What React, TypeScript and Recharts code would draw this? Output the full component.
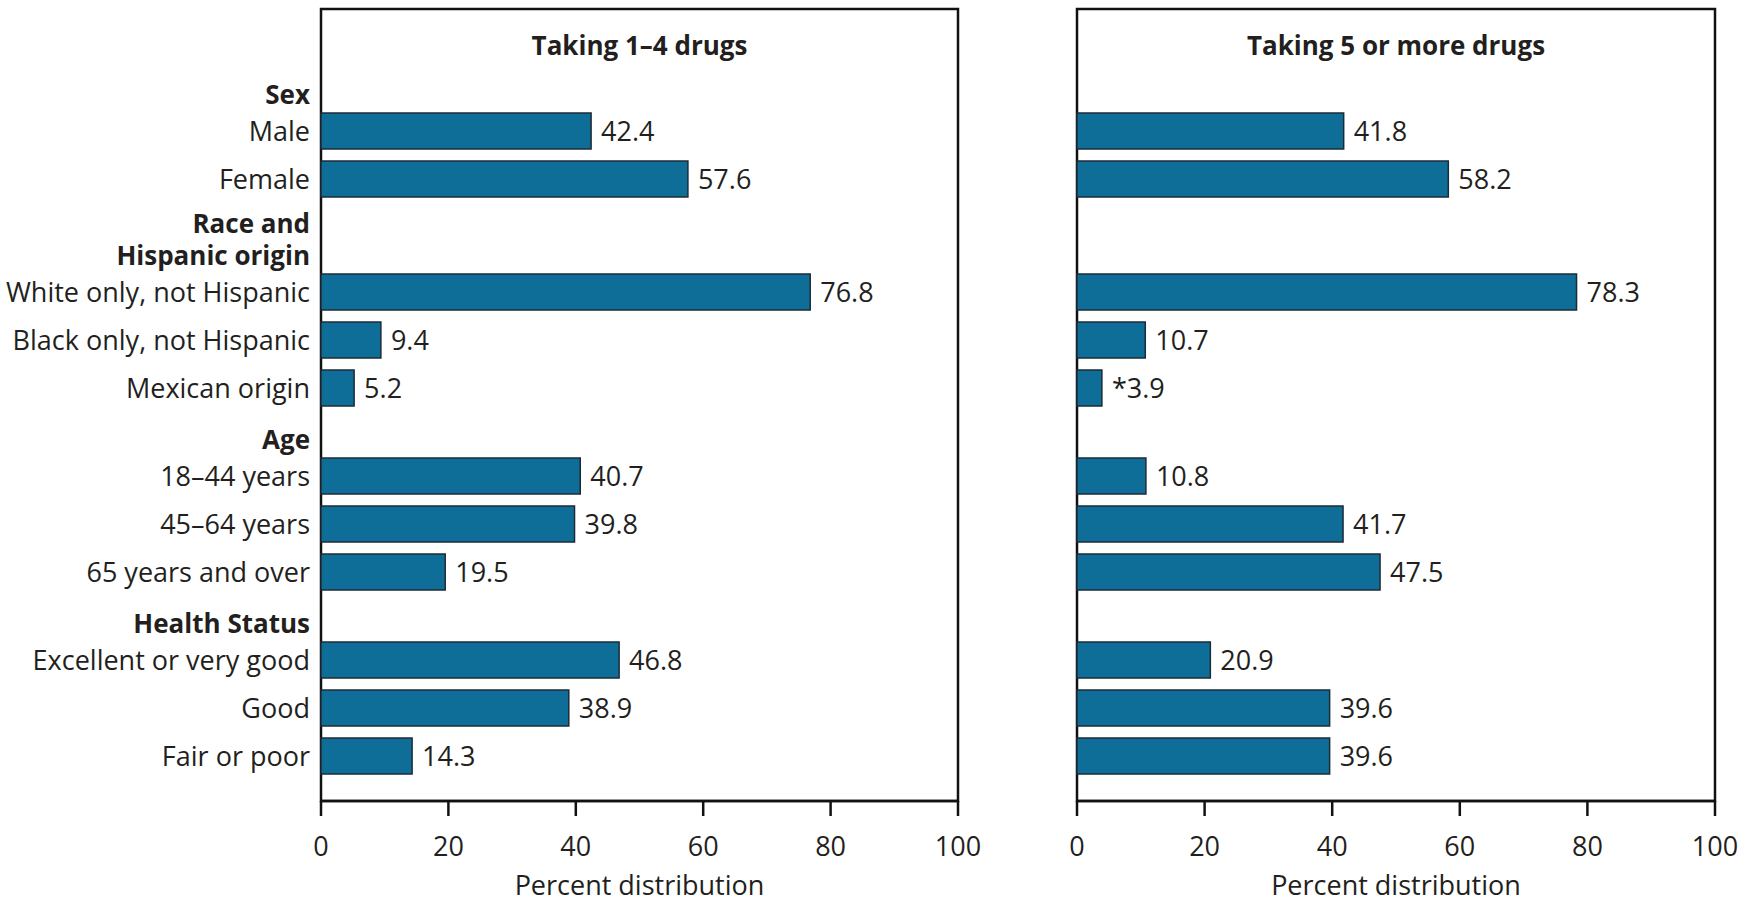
import { BarChart, Bar, XAxis, YAxis, LabelList, ReferenceArea, Label } from 'recharts';

// Categories and their group (index into groupHeaders)
const groupHeaders = ['Sex', 'Race and|Hispanic origin', 'Age', 'Health Status'];
const categories = [
  'Male',
  'Female',
  'White only, not Hispanic',
  'Black only, not Hispanic',
  'Mexican origin',
  '18–44 years',
  '45–64 years',
  '65 years and over',
  'Excellent or very good',
  'Good',
  'Fair or poor',
];
const categoryGroup = [0, 0, 1, 1, 1, 2, 2, 2, 3, 3, 3];

// Percent distribution
const oneToFourDrugs = [42.4, 57.6, 76.8, 9.4, 5.2, 40.7, 39.8, 19.5, 46.8, 38.9, 14.3];
const fivePlusDrugs = [41.8, 58.2, 78.3, 10.7, 3.9, 10.8, 41.7, 47.5, 20.9, 39.6, 39.6];
// '*' marks an estimate that is flagged in the source
const fivePlusFlags = ['', '', '', '', '*', '', '', '', '', '', ''];
const oneToFourFlags = ['', '', '', '', '', '', '', '', '', '', ''];

const xTicks = [0, 20, 40, 60, 80, 100];

// layout of the row axis (pixels from top of the plot box)
const PLOT_H = 792;
const FIRST_ROW = 122;
const ROW = 48;
const GROUP_GAP = 88;
const EXTRA_LINE_GAP = 25;
const HEADER_OFFSET = 36;
const LINE_HEIGHT = 32;

const BAR_FILL = '#0f6e97';
const BAR_STROKE = '#1c2b38';
const INK = '#231f20';
const FONT = 27;
const TITLE_FONT = 26;

type TickInfo = { pos: number; lines: string[]; bold: boolean };

function buildLayout() {
  const rowPos: number[] = [];
  const ticks: TickInfo[] = [];
  let cursor = FIRST_ROW;
  groupHeaders.forEach((header, g) => {
    const lines = header.split('|');
    if (g > 0) cursor += GROUP_GAP - ROW + (lines.length - 1) * EXTRA_LINE_GAP;
    ticks.push({ pos: cursor - HEADER_OFFSET, lines, bold: true });
    categories.forEach((name, i) => {
      if (categoryGroup[i] !== g) return;
      rowPos[i] = cursor;
      ticks.push({ pos: cursor, lines: [name], bold: false });
      cursor += ROW;
    });
  });
  return { rowPos, ticks };
}

const { rowPos, ticks } = buildLayout();

function makeData(values: number[], flags: string[]) {
  return categories.map((name, i) => ({
    name,
    pos: rowPos[i],
    value: values[i],
    label: flags[i] + values[i].toFixed(1),
  }));
}

const leftData = makeData(oneToFourDrugs, oneToFourFlags);
const rightData = makeData(fivePlusDrugs, fivePlusFlags);

function RowTick(props: any) {
  const { x, y, payload } = props;
  const info = ticks.find((t) => Math.abs(t.pos - payload.value) < 0.01);
  if (!info) return null;
  const n = info.lines.length;
  return (
    <g>
      {info.lines.map((line, k) => (
        <text
          key={k}
          x={x - 3}
          y={y - (n - 1 - k) * LINE_HEIGHT}
          dy="0.36em"
          textAnchor="end"
          fontSize={info.bold ? TITLE_FONT : FONT}
          fontWeight={info.bold ? 700 : 400}
          fill={INK}
        >
          {line}
        </text>
      ))}
    </g>
  );
}

function Panel({
  data,
  title,
  width,
  yWidth,
  showLabels,
}: {
  data: any[];
  title: string;
  width: number;
  yWidth: number;
  showLabels: boolean;
}) {
  return (
    <BarChart
      width={width}
      height={905}
      data={data}
      layout="vertical"
      margin={{ top: 9, right: 40, left: 0, bottom: 0 }}
    >
      <XAxis
        type="number"
        domain={[0, 100]}
        ticks={xTicks}
        interval={0}
        height={104}
        tickSize={15}
        tickMargin={21}
        axisLine={{ stroke: '#111', strokeWidth: 2.5 }}
        tickLine={{ stroke: '#111', strokeWidth: 2.5 }}
        tick={{ fontSize: FONT, fill: INK }}
      >
        <Label value="Percent distribution" position="insideBottom" offset={10} fontSize={FONT} fill={INK} />
      </XAxis>
      <YAxis
        type="number"
        dataKey="pos"
        domain={[0, PLOT_H]}
        width={yWidth}
        ticks={ticks.map((t) => t.pos)}
        interval={0}
        axisLine={false}
        tickLine={false}
        tick={showLabels ? <RowTick /> : false}
      />
      <ReferenceArea
        x1={0}
        x2={100}
        y1={0}
        y2={PLOT_H}
        fill="none"
        stroke="#111"
        strokeWidth={2.5}
        ifOverflow="visible"
      >
        <Label value={title} position="insideTop" offset={28} fontSize={TITLE_FONT} fontWeight={700} fill={INK} />
      </ReferenceArea>
      <Bar
        dataKey="value"
        barSize={36}
        fill={BAR_FILL}
        stroke={BAR_STROKE}
        strokeWidth={1.5}
        isAnimationActive={false}
      >
        <LabelList dataKey="label" position="right" offset={10} fontSize={FONT} fill={INK} />
      </Bar>
    </BarChart>
  );
}

export default function App() {
  return (
    <div
      style={{
        position: 'absolute',
        left: 0,
        top: 0,
        width: 1750,
        height: 905,
        background: '#fff',
        fontFamily: '"Open Sans", Roboto, sans-serif',
      }}
    >
      <div style={{ position: 'absolute', left: 0, top: 0 }}>
        <Panel data={leftData} title="Taking 1–4 drugs" width={998} yWidth={321} showLabels />
      </div>
      <div style={{ position: 'absolute', left: 1000, top: 0 }}>
        <Panel data={rightData} title="Taking 5 or more drugs" width={755} yWidth={77} showLabels={false} />
      </div>
    </div>
  );
}
